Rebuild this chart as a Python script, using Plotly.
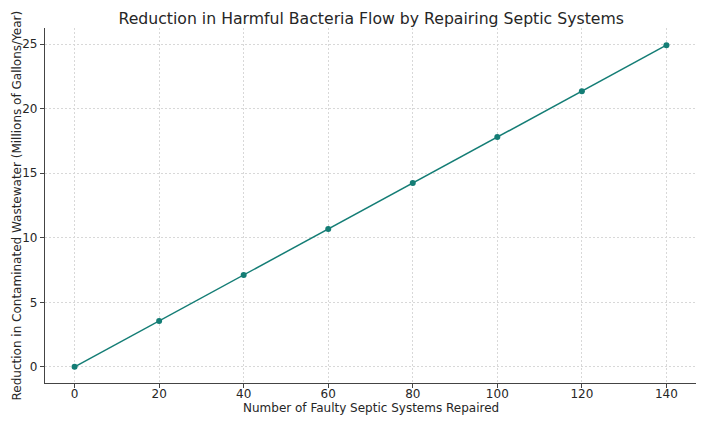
import plotly.graph_objects as go

systems_repaired = [0, 20, 40, 60, 80, 100, 120, 140]
reduction_mgal = [0.0, 3.56, 7.12, 10.68, 14.24, 17.80, 21.36, 24.92]

x_ticks = [0, 20, 40, 60, 80, 100, 120, 140]
y_ticks = [0, 5, 10, 15, 20, 25]

fig = go.Figure()
fig.add_trace(go.Scatter(
    x=systems_repaired, y=reduction_mgal, mode="lines+markers",
    line=dict(color="#147d75", width=1.5),
    marker=dict(color="#147d75", size=6),
    showlegend=False,
))

font_family = "DejaVu Sans, sans-serif"
fig.update_layout(
    width=703, height=424,
    margin=dict(l=45, r=7, t=28, b=41),
    paper_bgcolor="white", plot_bgcolor="white",
    font=dict(family=font_family, color="#262626", size=12),
    title=dict(text="Reduction in Harmful Bacteria Flow by Repairing Septic Systems",
               x=0.528, xanchor="center", y=0.957, yanchor="middle",
               font=dict(size=15.7, color="#262626")),
)
fig.update_xaxes(
    range=[-7, 147], tickvals=x_ticks, ticks="outside", ticklen=4,
    tickcolor="#444444", showline=True, linecolor="#444444", linewidth=1.2,
    showgrid=True, gridcolor="#d8d8d8", griddash="2px,2px", gridwidth=1,
    zeroline=False, tickfont=dict(size=12), automargin=False,
    ticklabelstandoff=-5,
)
fig.update_yaxes(
    range=[-1.25, 26.25], tickvals=y_ticks, ticks="outside", ticklen=4,
    tickcolor="#444444", showline=True, linecolor="#444444", linewidth=1.2,
    showgrid=True, gridcolor="#d8d8d8", griddash="2px,2px", gridwidth=1,
    zeroline=False, tickfont=dict(size=12), automargin=False,
)
fig.add_annotation(
    text="Number of Faulty Septic Systems Repaired",
    xref="paper", yref="paper", x=0.5, y=0, xanchor="center", yanchor="middle",
    yshift=-25, showarrow=False, font=dict(size=12, color="#262626"),
)
fig.add_annotation(
    text="Reduction in Contaminated Wastewater (Millions of Gallons/Year)",
    xref="paper", yref="paper", x=0, y=0.5, xanchor="center", yanchor="middle",
    xshift=-29, textangle=-90, showarrow=False, font=dict(size=12, color="#262626"),
)
fig.write_html(
    "out.html",
    config={"displayModeBar": False},
    post_script="document.body.style.margin='0';document.body.style.overflow='hidden';",
)
